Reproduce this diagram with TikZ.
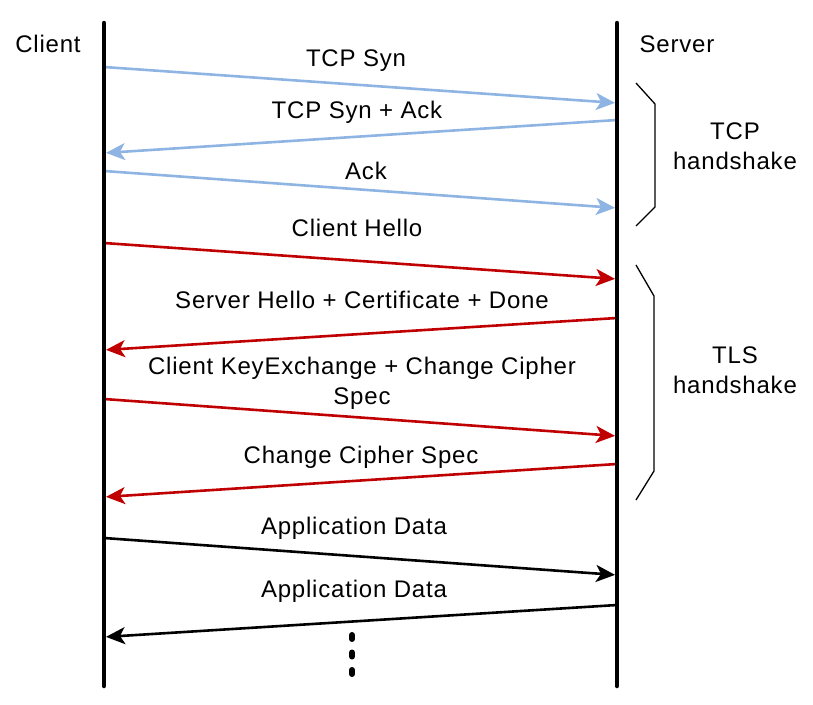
\documentclass[tikz,border=0pt]{standalone}
\usepackage{fontspec}
\setmainfont{Liberation Sans}[LetterSpace=3.3]
\usetikzlibrary{arrows.meta}
\definecolor{tcpblue}{RGB}{141,180,226}
\definecolor{tlsred}{RGB}{192,0,0}
\tikzstyle{lifeline}=[line width=4.5pt,line cap=round]
\tikzstyle{msg}=[line width=2.6pt,shorten >=2pt,-{Stealth[length=19pt,width=17pt,inset=5pt]}]
\tikzstyle{msgtcp}=[msg,tcpblue]
\tikzstyle{msgtls}=[msg,tlsred]
\tikzstyle{msgapp}=[msg,black]
\tikzstyle{brace}=[line width=1.3pt]
\tikzstyle{lbl}=[inner sep=0pt,font=\fontsize{24}{30}\selectfont]

\begin{document}
\begin{tikzpicture}[x=1pt,y=-1pt]
    \useasboundingbox (0,0) rectangle (813,704);
    % lifelines
    \coordinate (ctop) at (104,23);
    \coordinate (cbot) at (104,686);
    \coordinate (stop) at (617,23);
    \coordinate (sbot) at (617,686);
    \node[lbl] (client) at (48,44) {Client};
    \node[lbl] (server) at (677,44) {Server};

    % message end points
    \coordinate (c1) at (104,67);  \coordinate (s1) at (617,103);
    \coordinate (s2) at (617,120); \coordinate (c2) at (104,153);
    \coordinate (c3) at (104,171); \coordinate (s3) at (617,208);
    \coordinate (c4) at (104,243); \coordinate (s4) at (617,279);
    \coordinate (s5) at (617,318); \coordinate (c5) at (104,350);
    \coordinate (c6) at (104,399); \coordinate (s6) at (617,436);
    \coordinate (s7) at (617,464); \coordinate (c7) at (104,497);
    \coordinate (c8) at (104,538); \coordinate (s8) at (617,575);
    \coordinate (s9) at (617,605); \coordinate (c9) at (104,637);

    \foreach \from/\to/\sty in {c1/s1/msgtcp,s2/c2/msgtcp,c3/s3/msgtcp,
        c4/s4/msgtls,s5/c5/msgtls,c6/s6/msgtls,s7/c7/msgtls,
        c8/s8/msgapp,s9/c9/msgapp}
    \draw[\sty] (\from) -- (\to);

    \draw[lifeline] (ctop) -- (cbot);
    \draw[lifeline] (stop) -- (sbot);

    % message labels
    \node[lbl] (m1) at (356,61)  {TCP Syn};
    \node[lbl] (m2) at (357,112) {TCP Syn + Ack};
    \node[lbl] (m3) at (366,171) {Ack};
    \node[lbl] (m4) at (357,228) {Client Hello};
    \node[lbl] (m5) at (362,300) {Server Hello + Certificate + Done};
    \node[lbl,align=center] (m6) at (362,383) {Client KeyExchange + Change Cipher\\Spec};
    \node[lbl] (m7) at (361,457) {Change Cipher Spec};
    \node[lbl] (m8) at (354,528) {Application Data};
    \node[lbl] (m9) at (354,591) {Application Data};

    % handshake braces
    \draw[brace] (636,83) -- (655,104) -- (655,207) -- (636,226);
    \draw[brace] (636,265) -- (654,296) -- (654,471) -- (636,500);
    \node[lbl,align=center] (tcp) at (735,146) {TCP\\handshake};
    \node[lbl,align=center] (tls) at (735,370) {TLS\\handshake};

    % continuation dots
    \draw[line width=6pt,line cap=round,dash pattern=on 4pt off 13.5pt] (352,635) -- (352,674);
\end{tikzpicture}
\end{document}
